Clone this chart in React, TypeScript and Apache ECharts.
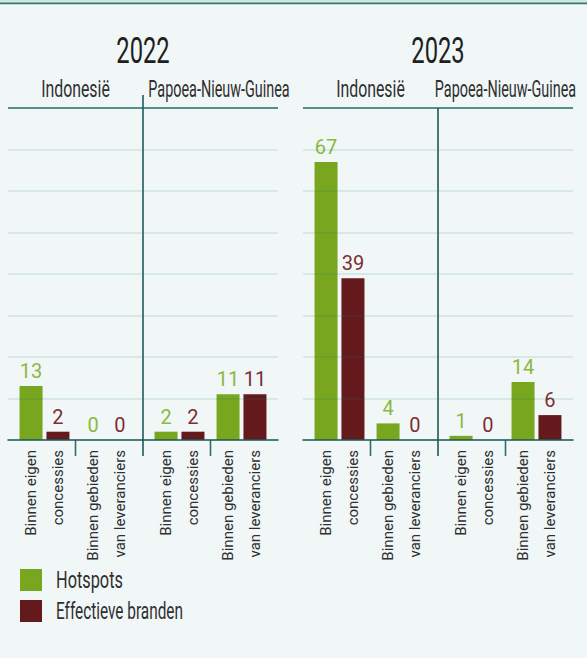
import React, { useEffect, useRef } from "react";
import * as echarts from "echarts";

// ---- data ----
const years = ["2022", "2023"];
const countries = ["Indonesië", "Papoea-Nieuw-Guinea"];
const categories = ["Binnen eigen\nconcessies", "Binnen gebieden\nvan leveranciers"];
const seriesNames = ["Hotspots", "Effectieve branden"];

const hotspots2022Indonesia = [13, 0];
const branden2022Indonesia = [2, 0];
const hotspots2022Png = [2, 11];
const branden2022Png = [2, 11];
const hotspots2023Indonesia = [67, 4];
const branden2023Indonesia = [39, 0];
const hotspots2023Png = [1, 14];
const branden2023Png = [0, 6];

const yMax = 80;
const yInterval = 10;

// ---- style / layout ----
const FONT = "Roboto, 'Noto Sans', sans-serif";
const BG = "#f1f7f7";
const GREEN = "#78a61f";
const MAROON = "#641a1d";
const GREEN_LABEL = "#8cb742";
const MAROON_LABEL = "#7b2e33";
const AXIS = "#1f5a58";
const TEXT = "#2f2f2f";

const panelLeft = [8, 303];
const panelWidth = 270;
const gridTop = 108;
const gridHeight = 332;
const inset = 5.5;

const panels = [
  { y: 0, c: 0, hot: hotspots2022Indonesia, br: branden2022Indonesia },
  { y: 0, c: 1, hot: hotspots2022Png, br: branden2022Png },
  { y: 1, c: 0, hot: hotspots2023Indonesia, br: branden2023Indonesia },
  { y: 1, c: 1, hot: hotspots2023Png, br: branden2023Png },
];

export default function App() {
  const ref = useRef<HTMLDivElement>(null);
  useEffect(() => {
    if (!ref.current) return;
    const chart = echarts.init(ref.current, undefined, { renderer: "svg" });
    const half = panelWidth / 2;

    const grid: any[] = [];
    const xAxis: any[] = [];
    const yAxis: any[] = [];
    const series: any[] = [];

    // background grids (one per year) for gridlines and baseline
    years.forEach((_, i) => {
      grid.push({ left: panelLeft[i], top: gridTop, width: panelWidth, height: gridHeight });
      xAxis.push({
        gridIndex: i,
        type: "category",
        data: [""],
        z: 6,
        axisLine: { show: true, lineStyle: { color: AXIS, width: 1.6 } },
        axisTick: { show: false },
        axisLabel: { show: false },
      });
      yAxis.push({
        gridIndex: i,
        type: "value",
        min: 0,
        max: yMax,
        interval: yInterval,
        z: 5,
        axisLine: { show: false },
        axisTick: { show: false },
        axisLabel: { show: false },
        splitLine: { show: true, lineStyle: { color: "rgba(20,130,110,0.16)", width: 1.6 } },
      });
    });

    // data grids (one per year x country)
    panels.forEach((p, k) => {
      const gi = 2 + k;
      grid.push({
        left: panelLeft[p.y] + p.c * half + inset,
        top: gridTop,
        width: half - 2 * inset,
        height: gridHeight,
      });
      xAxis.push({
        gridIndex: gi,
        type: "category",
        data: categories,
        axisLine: { show: false },
        axisTick: { show: false },
        axisLabel: {
          rotate: 90,
          margin: 10,
          fontSize: 15,
          lineHeight: 27,
          color: TEXT,
          fontFamily: FONT,
          interval: 0,
        },
      });
      yAxis.push({ gridIndex: gi, type: "value", min: 0, max: yMax, show: false });
      [p.hot, p.br].forEach((vals, s) => {
        series.push({
          type: "bar",
          name: seriesNames[s],
          xAxisIndex: gi,
          yAxisIndex: gi,
          data: vals,
          barWidth: 23,
          barGap: "17%",
          itemStyle: { color: s === 0 ? GREEN : MAROON },
          label: {
            show: true,
            position: "top",
            distance: 5,
            fontSize: 20,
            fontFamily: FONT,
            color: s === 0 ? GREEN_LABEL : MAROON_LABEL,
          },
        });
      });
    });

    const graphic: any[] = [];
    graphic.push({ type: "rect", shape: { x: 0, y: 0, width: 587, height: 2.6 }, style: { fill: "#cfe6df" } });
    graphic.push({ type: "rect", shape: { x: 0, y: 2.6, width: 587, height: 1.7 }, style: { fill: "#2a7b68" } });
    years.forEach((yr, i) => {
      const left = panelLeft[i];
      graphic.push({
        type: "text",
        x: left + half,
        y: 51,
        scaleX: 0.66,
        style: { text: yr, fontSize: 36, fontFamily: FONT, fill: "#1f1f1f", align: "center", verticalAlign: "middle" },
      });
      const headerX = i === 0 ? [left + half / 2, left + half + 76] : [left + half / 2, left + half + half / 2];
      countries.forEach((c, ci) => {
        graphic.push({
          type: "text",
          x: headerX[ci],
          y: 89,
          scaleX: ci === 0 ? 0.66 : 0.6,
          style: { text: c, fontSize: 24, fontFamily: FONT, fill: TEXT, align: "center", verticalAlign: "middle" },
        });
      });
      graphic.push({
        type: "line",
        shape: { x1: left, y1: gridTop, x2: left + panelWidth, y2: gridTop },
        style: { stroke: "#2f6e69", lineWidth: 1.6 },
      });
      graphic.push({
        type: "line",
        shape: { x1: left + half, y1: i === 0 ? 95 : gridTop, x2: left + half, y2: gridTop + gridHeight + 16 },
        style: { stroke: AXIS, lineWidth: 1.6 },
      });
      [half / 2, half + half / 2].forEach((dx) => {
        graphic.push({
          type: "line",
          shape: { x1: left + dx, y1: gridTop + gridHeight, x2: left + dx, y2: gridTop + gridHeight + 16 },
          style: { stroke: "#2f6e69", lineWidth: 1.6 },
        });
      });
    });

    // legend
    seriesNames.forEach((name, s) => {
      const top = 569 + s * 31;
      graphic.push({
        type: "rect",
        shape: { x: 20, y: top, width: 22, height: 22 },
        style: { fill: s === 0 ? GREEN : MAROON },
      });
      graphic.push({
        type: "text",
        x: 56,
        y: top + 11,
        scaleX: s === 0 ? 0.68 : 0.64,
        style: { text: name, fontSize: 24, fontFamily: FONT, fill: TEXT, align: "left", verticalAlign: "middle" },
      });
    });

    chart.setOption({
      animation: false,
      backgroundColor: BG,
      grid,
      xAxis,
      yAxis,
      series,
      graphic,
    });
    return () => chart.dispose();
  }, []);

  return (
    <div
      ref={ref}
      style={{ position: "fixed", left: 0, top: 0, width: 587, height: 658, background: BG }}
    />
  );
}
